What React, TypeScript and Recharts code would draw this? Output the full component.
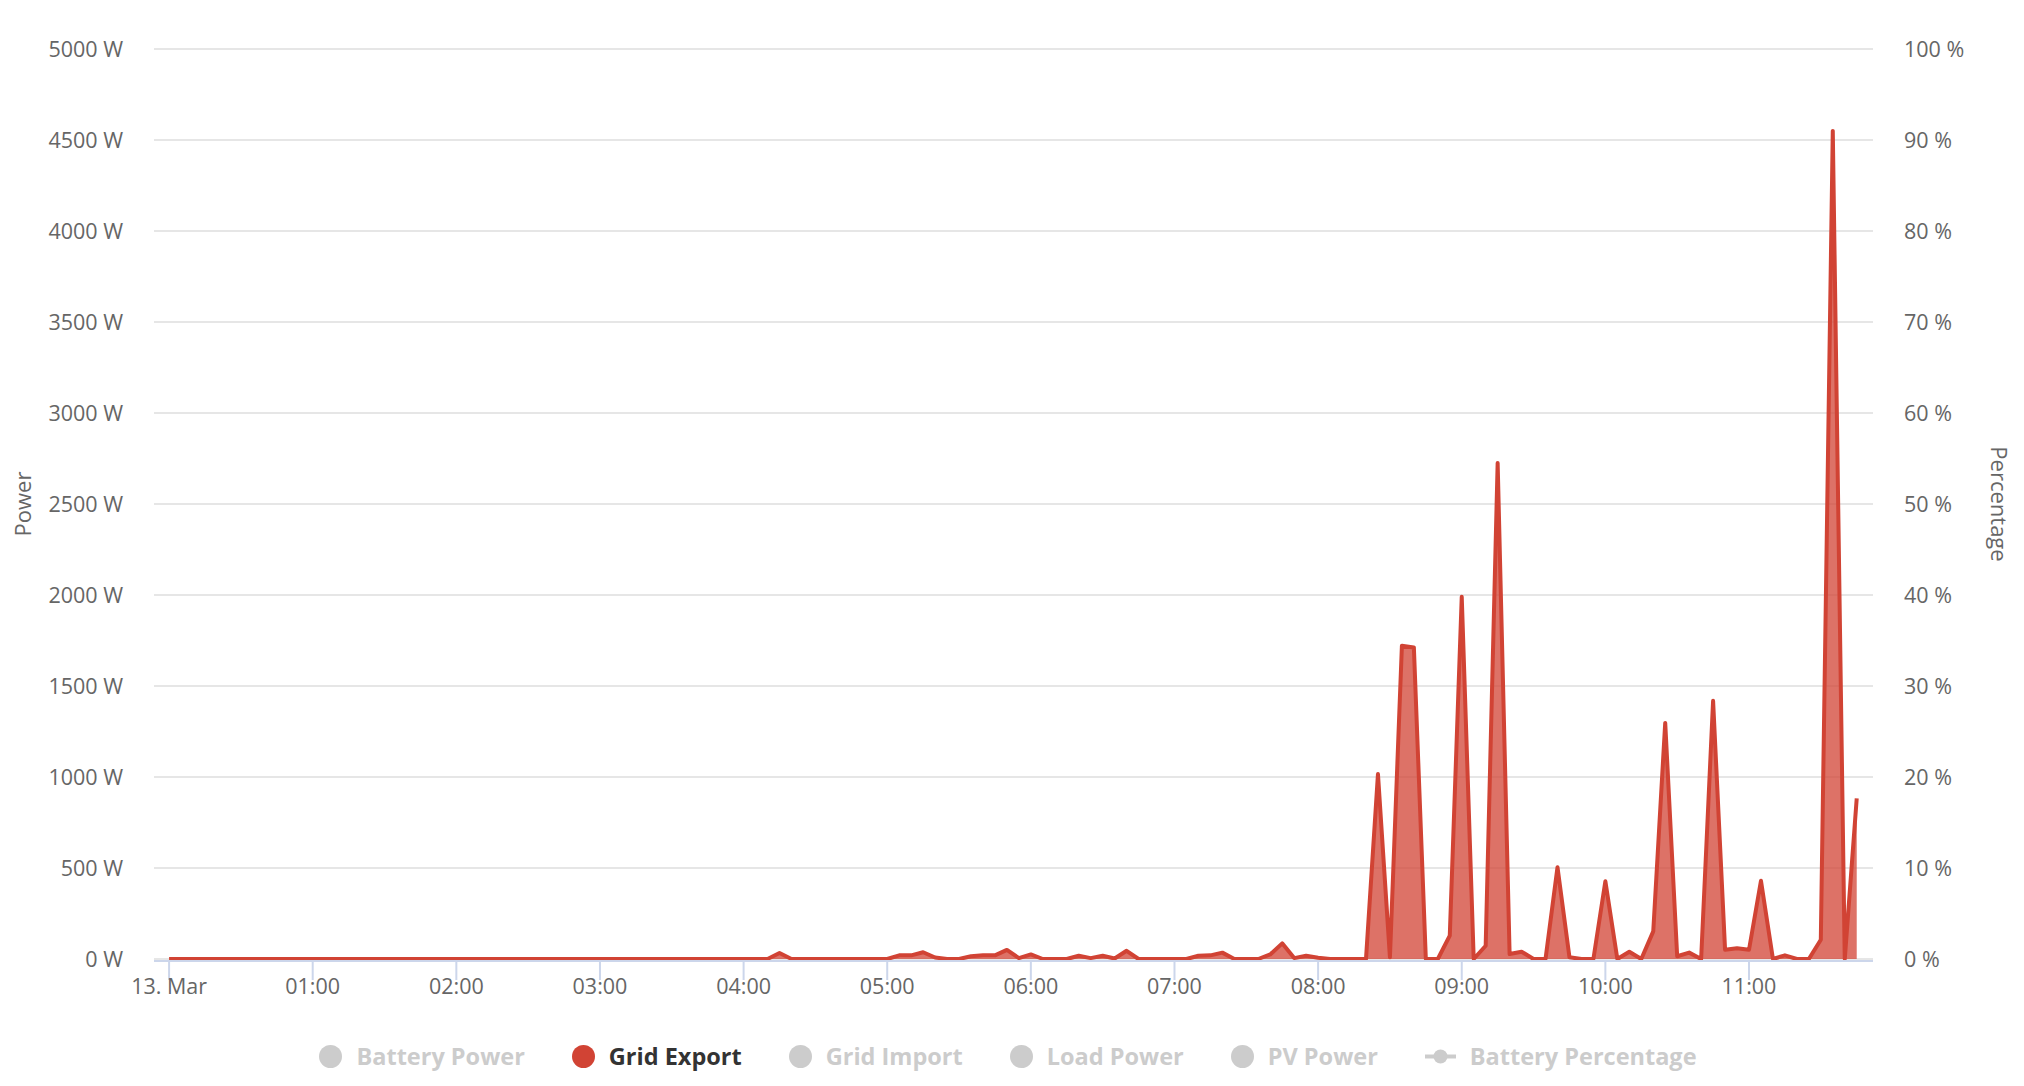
import { AreaChart, Area, XAxis, YAxis, CartesianGrid, Label } from 'recharts';

// Grid export readings, one every 5 minutes from 00:00 (W)
const GRID_EXPORT = [
  0, 0, 0, 0, 0, 0, 0, 0, 0, 0, 0, 0,
  0, 0, 0, 0, 0, 0, 0, 0, 0, 0, 0, 0,
  0, 0, 0, 0, 0, 0, 0, 0, 0, 0, 0, 0,
  0, 0, 0, 0, 0, 0, 0, 0, 0, 0, 0, 0,
  0, 0, 0, 33, 0, 0, 0, 0, 0, 0, 0, 0,
  0, 20, 20, 37, 8, 0, 0, 15, 20, 20, 50, 5,
  25, 0, 0, 0, 18, 5, 18, 3, 45, 0, 0, 0,
  0, 0, 18, 20, 35, 0, 0, 0, 25, 86, 5, 18,
  7, 0, 0, 0, 0, 1016, 10, 1721, 1712, 0, 0, 128,
  1990, 0, 73, 2725, 27, 40, 0, 0, 504, 10, 0, 0,
  427, 0, 40, 0, 152, 1297, 15, 35, 0, 1419, 51, 59,
  51, 430, 0, 20, 0, 0, 106, 4550, 0, 883,
];
const STEP_MINUTES = 5;

const X_TICKS = [0, 60, 120, 180, 240, 300, 360, 420, 480, 540, 600, 660];
const X_TICK_LABELS = ['13. Mar', '01:00', '02:00', '03:00', '04:00', '05:00', '06:00', '07:00', '08:00', '09:00', '10:00', '11:00'];
const POWER_TICKS = [0, 500, 1000, 1500, 2000, 2500, 3000, 3500, 4000, 4500, 5000];
const PERCENT_TICKS = [0, 10, 20, 30, 40, 50, 60, 70, 80, 90, 100];

const LEGEND_ITEMS = [
  { name: 'Battery Power', active: false, symbol: 'circle' },
  { name: 'Grid Export', active: true, symbol: 'circle' },
  { name: 'Grid Import', active: false, symbol: 'circle' },
  { name: 'Load Power', active: false, symbol: 'circle' },
  { name: 'PV Power', active: false, symbol: 'circle' },
  { name: 'Battery Percentage', active: false, symbol: 'line' },
];

const RED = '#d14334';
const FONT = '"Open Sans", "Noto Sans", sans-serif';
const AXIS_TEXT = { fill: '#666666', fontSize: 21.5, fontFamily: FONT };

const data = GRID_EXPORT.map((v, i) => ({ t: i * STEP_MINUTES, gridExport: v }));

function AxisTitle({ viewBox, text, cx, rotate }: any) {
  const cy = viewBox.y + viewBox.height / 2;
  return (
    <text
      x={cx}
      y={cy}
      textAnchor="middle"
      dominantBaseline="central"
      transform={`rotate(${rotate}, ${cx}, ${cy})`}
      fill="#666666"
      fontSize={22}
      fontFamily={FONT}
    >
      {text}
    </text>
  );
}

function LegendBar() {
  return (
    <div
      style={{
        position: 'absolute',
        top: 1034,
        left: -4,
        width: 2008,
        height: 28,
        display: 'flex',
        justifyContent: 'center',
        alignItems: 'center',
        gap: 47,
        fontFamily: FONT,
        fontWeight: 700,
        fontSize: 23.5,
      }}
    >
      {LEGEND_ITEMS.map((item) => {
        const color = item.active ? RED : '#cccccc';
        return (
          <div key={item.name} style={{ display: 'flex', alignItems: 'center', gap: 14 }}>
            {item.symbol === 'circle' ? (
              <span style={{ width: 23, height: 23, borderRadius: '50%', background: color, display: 'inline-block' }} />
            ) : (
              <svg width={31} height={23}>
                <line x1={0} y1={11.5} x2={31} y2={11.5} stroke={color} strokeWidth={4} />
                <circle cx={15.5} cy={11.5} r={7} fill={color} />
              </svg>
            )}
            <span style={{ color: item.active ? '#333333' : '#cccccc' }}>{item.name}</span>
          </div>
        );
      })}
    </div>
  );
}

export default function App() {
  return (
    <div style={{ position: 'relative', width: 2008, height: 1070, background: '#ffffff' }}>
      <AreaChart width={2008} height={1000} data={data} margin={{ top: 41, right: 0, bottom: 0, left: 0 }}>
        <CartesianGrid vertical={false} yAxisId="power" stroke="#e6e6e6" strokeWidth={2} />
        <XAxis
          dataKey="t"
          type="number"
          domain={[-6.3, 711.8]}
          allowDataOverflow
          ticks={X_TICKS}
          tickFormatter={(v: number) => X_TICK_LABELS[X_TICKS.indexOf(v)]}
          height={49}
          tickSize={19}
          tickMargin={1}
          axisLine={{ stroke: '#ccd6eb', strokeWidth: 2, transform: 'translate(0, 2)' }}
          tickLine={{ stroke: '#ccd6eb', strokeWidth: 2, transform: 'translate(0, 2)' }}
          tick={AXIS_TEXT}
          interval={0}
        />
        <YAxis
          yAxisId="power"
          orientation="left"
          width={146}
          domain={[0, 5000]}
          ticks={POWER_TICKS}
          tickFormatter={(v: number) => `${v} W`}
          axisLine={false}
          tickLine={false}
          tickSize={0}
          tickMargin={31}
          tick={AXIS_TEXT}
          interval={0}
        >
          <Label content={(props: any) => <AxisTitle {...props} text="Power" cx={14} rotate={-90} />} />
        </YAxis>
        <YAxis
          yAxisId="percent"
          orientation="right"
          width={143}
          domain={[0, 100]}
          allowDataOverflow
          ticks={PERCENT_TICKS}
          tickFormatter={(v: number) => `${v} %`}
          axisLine={false}
          tickLine={false}
          tickSize={0}
          tickMargin={31}
          tick={{ ...AXIS_TEXT, textAnchor: 'start' }}
          interval={0}
        >
          <Label content={(props: any) => <AxisTitle {...props} text="Percentage" cx={1992} rotate={90} />} />
        </YAxis>
        <Area
          yAxisId="power"
          type="linear"
          dataKey="gridExport"
          stroke={RED}
          strokeWidth={4}
          strokeLinejoin="round"
          fill={RED}
          fillOpacity={0.75}
          dot={false}
          activeDot={false}
          isAnimationActive={false}
        />
      </AreaChart>
      <LegendBar />
    </div>
  );
}
